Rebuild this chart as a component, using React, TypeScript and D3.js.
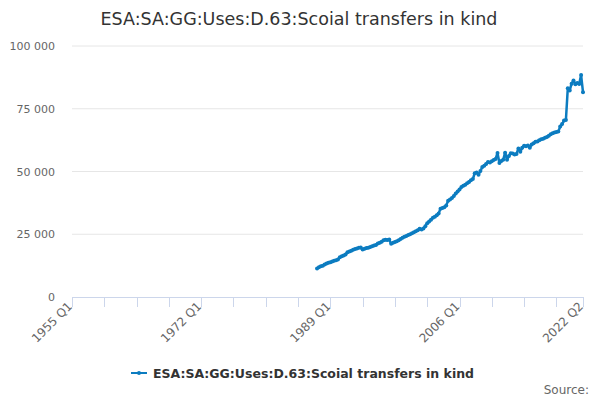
import React from "react";
import * as d3 from "d3";

// quarterly values (thousands), 1987 Q2 .. 2022 Q2
const startYear = 1955;
const firstDataQuarter = 129; // quarters after 1955 Q1 -> 1987 Q2
const lastQuarter = 269; // 2022 Q2

const values = [
  11.4, 11.9, 12.3, 12.5, 12.9, 13.3, 13.6, 13.8, 14.1, 14.4,
  14.6, 14.9, 15.8, 16.2, 16.5, 16.9, 17.8, 18.1, 18.4, 18.8,
  19.1, 19.3, 19.6, 19.7, 18.9, 19.2, 19.5, 19.6, 19.9, 20.2,
  20.5, 20.7, 21.3, 21.6, 22.0, 22.6, 22.8, 22.7, 22.9, 21.2,
  21.6, 21.9, 22.2, 22.6, 23.1, 23.6, 24.0, 24.3, 24.7, 25.0,
  25.4, 25.8, 26.2, 26.6, 27.2, 26.9, 27.3, 28.2, 29.4, 30.1,
  30.8, 31.6, 32.0, 32.6, 33.3, 35.2, 35.5, 35.8, 36.5, 38.3,
  38.8, 39.4, 40.2, 41.2, 42.0, 42.8, 43.8, 44.3, 44.7, 45.3,
  45.8, 46.5, 47.0, 49.3, 49.6, 48.7, 50.2, 51.8, 52.3, 53.0,
  53.8, 53.6, 54.1, 54.6, 55.0, 57.4, 53.4, 54.2, 54.7, 57.5,
  54.7, 56.2, 57.3, 57.2, 56.8, 57.0, 59.2, 57.9, 59.5, 60.3,
  60.1, 60.4, 59.5, 60.8, 61.3, 61.9, 62.0, 62.5, 62.8, 63.0,
  63.4, 63.7, 64.2, 64.8, 65.2, 65.5, 65.7, 65.9, 67.9, 68.9,
  70.3, 70.5, 83.2, 82.3, 85.0, 86.3, 84.8, 85.3, 84.9, 88.4,
  81.6,
].map((v) => v * 1000);

const yTicks = [0, 25000, 50000, 75000, 100000];
const labelQuarters = [0, 68, 136, 204, 269];

const seriesName = "ESA:SA:GG:Uses:D.63:Scoial transfers in kind";
const font = "'DejaVu Sans', sans-serif";
const color = "#0c7cc0";

const quarterLabel = (q: number) =>
  `${startYear + Math.floor(q / 4)} Q${(q % 4) + 1}`;

export default function App() {
  const width = 600;
  const height = 400;
  const margin = { top: 46, right: 17, bottom: 103, left: 72 };

  const x = d3
    .scaleLinear()
    .domain([0, lastQuarter])
    .range([margin.left, width - margin.right]);
  const y = d3
    .scaleLinear()
    .domain([0, 100000])
    .range([height - margin.bottom, margin.top]);

  const points = values.map((v, i) => [firstDataQuarter + i, v] as [number, number]);
  const line = d3
    .line<[number, number]>()
    .x((d) => x(d[0]))
    .y((d) => y(d[1]));

  const tickQuarters = d3.range(0, lastQuarter, 17).concat([lastQuarter]);
  const fmt = (v: number) => d3.format(",")(v).replace(/,/g, " ");

  return (
    <svg
      width={width}
      height={height}
      style={{ position: "absolute", left: 0, top: 0, fontFamily: font }}
    >
      <rect width={width} height={height} fill="#fff" />
      <text x={299} y={25} textAnchor="middle" fontSize={17.5} fill="#333">
        {seriesName}
      </text>

      {yTicks.map((t) => (
        <g key={t}>
          {t > 0 && (
            <line
              x1={x(0)}
              x2={x(lastQuarter)}
              y1={y(t)}
              y2={y(t)}
              stroke="#e6e6e6"
            />
          )}
          <text x={55} y={y(t) + 4} textAnchor="end" fontSize={11} fill="#666">
            {fmt(t)}
          </text>
        </g>
      ))}

      <line
        x1={x(0)}
        x2={x(lastQuarter)}
        y1={y(0) + 0.5}
        y2={y(0) + 0.5}
        stroke="#ccd6eb"
      />
      {tickQuarters.map((q) => (
        <line
          key={q}
          x1={Math.round(x(q)) + 0.5}
          x2={Math.round(x(q)) + 0.5}
          y1={y(0)}
          y2={y(0) + 10}
          stroke="#ccd6eb"
        />
      ))}
      {labelQuarters.map((q) => (
        <text
          key={q}
          transform={`translate(${x(q) + 1},${y(0) + 10}) rotate(-45)`}
          textAnchor="end"
          fontSize={12}
          fill="#666"
        >
          {quarterLabel(q)}
        </text>
      ))}

      <path
        d={line(points) ?? ""}
        fill="none"
        stroke={color}
        strokeWidth={2.5}
        strokeLinejoin="round"
      />
      {points.map((d, i) => (
        <circle key={i} cx={x(d[0])} cy={y(d[1])} r={2} fill={color} />
      ))}

      <g>
        <line x1={131} x2={147} y1={373} y2={373} stroke={color} strokeWidth={2} />
        <circle cx={139} cy={373} r={2} fill={color} />
        <text x={153} y={378} fontSize={12.5} fontWeight="bold" fill="#333">
          {seriesName}
        </text>
      </g>
      <text x={589} y={394} textAnchor="end" fontSize={12} fill="#666">
        Source:
      </text>
    </svg>
  );
}
